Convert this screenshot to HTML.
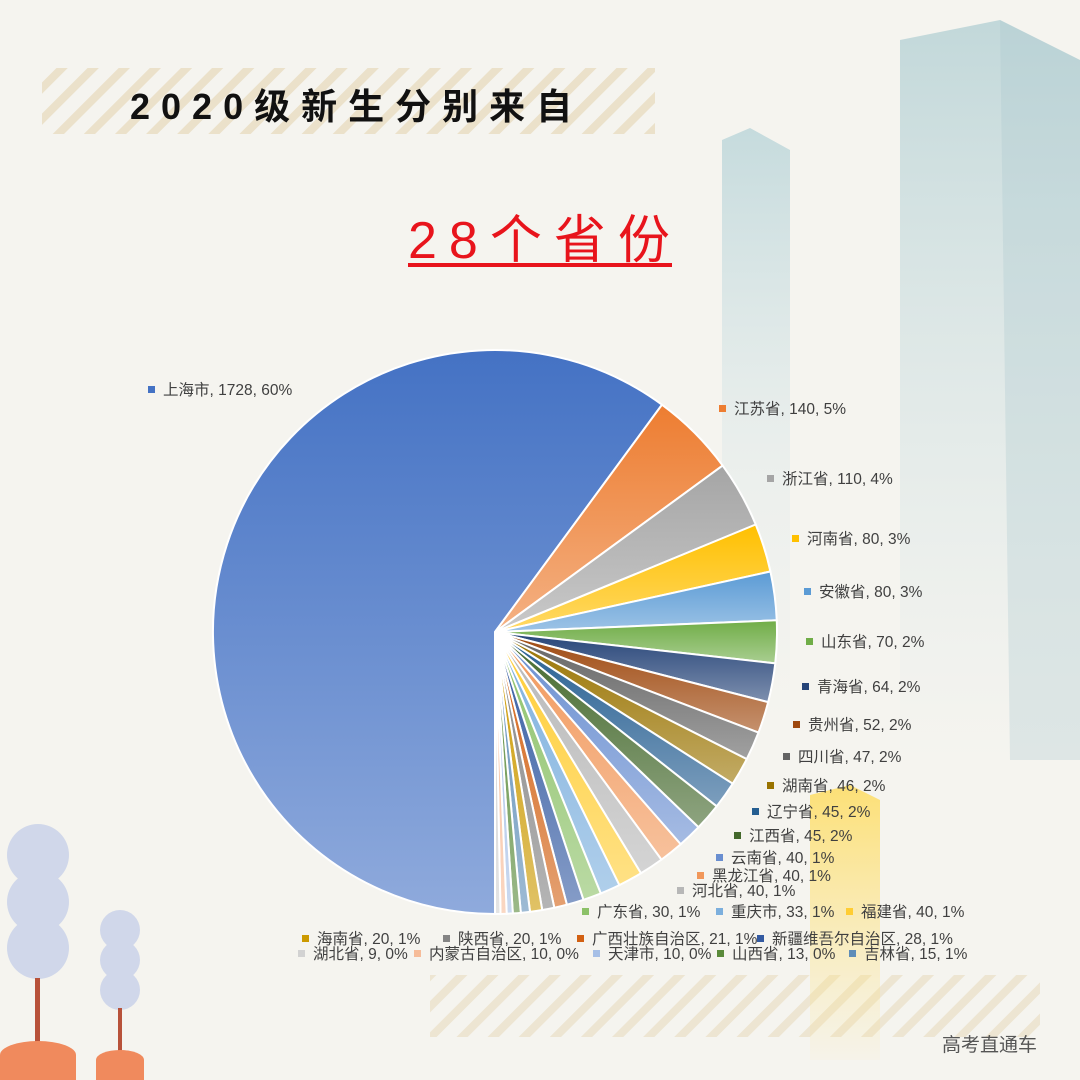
<!DOCTYPE html>
<html><head><meta charset="utf-8">
<style>
html,body{margin:0;padding:0}
body{width:1080px;height:1080px;background:#f5f4ef;position:relative;overflow:hidden;font-family:"Liberation Sans","Noto Sans CJK SC",sans-serif}
.t{position:absolute;font-size:15.5px;color:#404040;white-space:nowrap;line-height:16px}
.t i{display:inline-block;width:7px;height:7px;margin-right:8px;vertical-align:2px}
</style></head><body>
<svg width="1080" height="1080" style="position:absolute;left:0;top:0">
<defs>
<pattern id="st" width="22" height="22" patternUnits="userSpaceOnUse" patternTransform="rotate(45)">
<rect width="8" height="22" fill="#eadfc6"/></pattern>
<linearGradient id="bd" x1="0" y1="0" x2="0" y2="1"><stop offset="0" stop-color="#b9d3d6" stop-opacity=".85"/><stop offset=".6" stop-color="#cfe0e2" stop-opacity=".4"/><stop offset="1" stop-color="#d8e6e8" stop-opacity="0"/></linearGradient>
<linearGradient id="bd2" x1="0" y1="0" x2="0" y2="1"><stop offset="0" stop-color="#c0d8db" stop-opacity=".9"/><stop offset=".6" stop-color="#d8e6e8" stop-opacity=".3"/><stop offset="1" stop-color="#d8e6e8" stop-opacity="0"/></linearGradient>
<linearGradient id="gd" x1="0" y1="0" x2="0" y2="1"><stop offset="0" stop-color="#ffd94d" stop-opacity=".75"/><stop offset="1" stop-color="#ffe27a" stop-opacity=".05"/></linearGradient>
</defs>
<rect x="42" y="68" width="613" height="66" fill="url(#st)" opacity=".9"/>
<rect x="430" y="975" width="610" height="62" fill="url(#st)" opacity=".7"/>
<polygon points="900,40 1000,20 1080,60 1080,760 900,760" fill="url(#bd)"/>
<polygon points="1000,20 1080,60 1080,760 1010,760" fill="#a9c8cc" opacity=".3"/>
<polygon points="722,140 750,128 790,150 790,720 722,720" fill="url(#bd2)"/>
<polygon points="810,795 850,785 880,800 880,1060 810,1060" fill="url(#gd)"/>
<circle cx="38" cy="855" r="31" fill="#d0d7ea"/><circle cx="38" cy="902" r="31" fill="#d0d7ea"/><circle cx="38" cy="948" r="31" fill="#d0d7ea"/>
<rect x="35" y="978" width="5" height="70" fill="#b8523a"/>
<ellipse cx="38" cy="1055" rx="38" ry="14" fill="#f08a5d"/><rect x="0" y="1055" width="76" height="25" fill="#f08a5d"/>
<circle cx="120" cy="930" r="20" fill="#d0d7ea"/><circle cx="120" cy="960" r="20" fill="#d0d7ea"/><circle cx="120" cy="990" r="20" fill="#d0d7ea"/>
<rect x="118" y="1008" width="4" height="50" fill="#b8523a"/>
<ellipse cx="120" cy="1060" rx="24" ry="10" fill="#f08a5d"/><rect x="96" y="1060" width="48" height="20" fill="#f08a5d"/>
<g id="pie"></g>
<rect x="408" y="263" width="264" height="4" fill="#e8141c"/>
</svg>
<div style="position:absolute;left:130px;top:78px;font-size:36px;letter-spacing:11px;color:#111;font-weight:bold">2020级新生分别来自</div>
<div style="position:absolute;left:408px;top:198px;font-size:52px;letter-spacing:12px;color:#e8141c">28个省份</div>
<div style="position:absolute;left:942px;top:1030px;font-size:19px;color:#555">高考直通车</div>
<div id="labels"></div>
<script>
var data=[["上海市",1728,"#4472C4"],["江苏省",140,"#ED7D31"],["浙江省",110,"#A5A5A5"],["河南省",80,"#FFC000"],["安徽省",80,"#5B9BD5"],["山东省",70,"#70AD47"],["青海省",64,"#264478"],["贵州省",52,"#9E480E"],["四川省",47,"#636363"],["湖南省",46,"#997300"],["辽宁省",45,"#255E91"],["江西省",45,"#43682B"],["云南省",40,"#698ED0"],["黑龙江省",40,"#F1975A"],["河北省",40,"#B7B7B7"],["福建省",40,"#FFCD33"],["重庆市",33,"#7CAFDD"],["广东省",30,"#8CC168"],["新疆维吾尔自治区",28,"#335AA1"],["广西壮族自治区",21,"#D26012"],["陕西省",20,"#848484"],["海南省",20,"#CC9A00"],["吉林省",15,"#5E8DB8"],["山西省",13,"#5A8A3A"],["天津市",10,"#A6BFE6"],["内蒙古自治区",10,"#F6BC99"],["湖北省",9,"#D2D2D2"]];
var tot=0;data.forEach(d=>tot+=d[1]);
var cx=495,cy=632,r=282,a=180,svg="",defs="";
function lt(h,f){var n=parseInt(h.slice(1),16),R=n>>16,G=n>>8&255,B=n&255;R=Math.round(R+(255-R)*f);G=Math.round(G+(255-G)*f);B=Math.round(B+(255-B)*f);return "rgb("+R+","+G+","+B+")";}
data.forEach((d,i)=>{var s=d[1]/tot*360,b=a+s;
function p(t){t=t*Math.PI/180;return (cx+r*Math.sin(t)).toFixed(2)+","+(cy-r*Math.cos(t)).toFixed(2);}
defs+='<linearGradient id="g'+i+'" x1="0" y1="0" x2="0" y2="1"><stop offset="0" stop-color="'+d[2]+'"/><stop offset="1" stop-color="'+lt(d[2],0.4)+'"/></linearGradient>';
svg+='<path d="M'+cx+','+cy+' L'+p(a)+' A'+r+','+r+' 0 '+(s>180?1:0)+' 1 '+p(b)+' Z" fill="url(#g'+i+')" stroke="#fff" stroke-width="2"/>';
a=b;});
document.getElementById("pie").innerHTML='<defs>'+defs+'</defs>'+svg;
var pos={"上海市":[148,383],"江苏省":[719,402],"浙江省":[767,472],"河南省":[792,532],"安徽省":[804,585],"山东省":[806,635],"青海省":[802,680],"贵州省":[793,718],"四川省":[783,750],"湖南省":[767,779],"辽宁省":[752,805],"江西省":[734,829],"云南省":[716,851],"黑龙江省":[697,869],"河北省":[677,884],"广东省":[582,905],"重庆市":[716,905],"福建省":[846,905],"海南省":[302,932],"陕西省":[443,932],"广西壮族自治区":[577,932],"新疆维吾尔自治区":[757,932],"湖北省":[298,947],"内蒙古自治区":[414,947],"天津市":[593,947],"山西省":[717,947],"吉林省":[849,947]};
var h="";data.forEach(d=>{var q=pos[d[0]];var pc=Math.round(d[1]/tot*100);
h+='<div class="t" style="left:'+q[0]+'px;top:'+q[1]+'px"><i style="background:'+d[2]+'"></i>'+d[0]+', '+d[1]+', '+pc+'%</div>';});
document.getElementById("labels").innerHTML=h;
</script>
</body></html>
